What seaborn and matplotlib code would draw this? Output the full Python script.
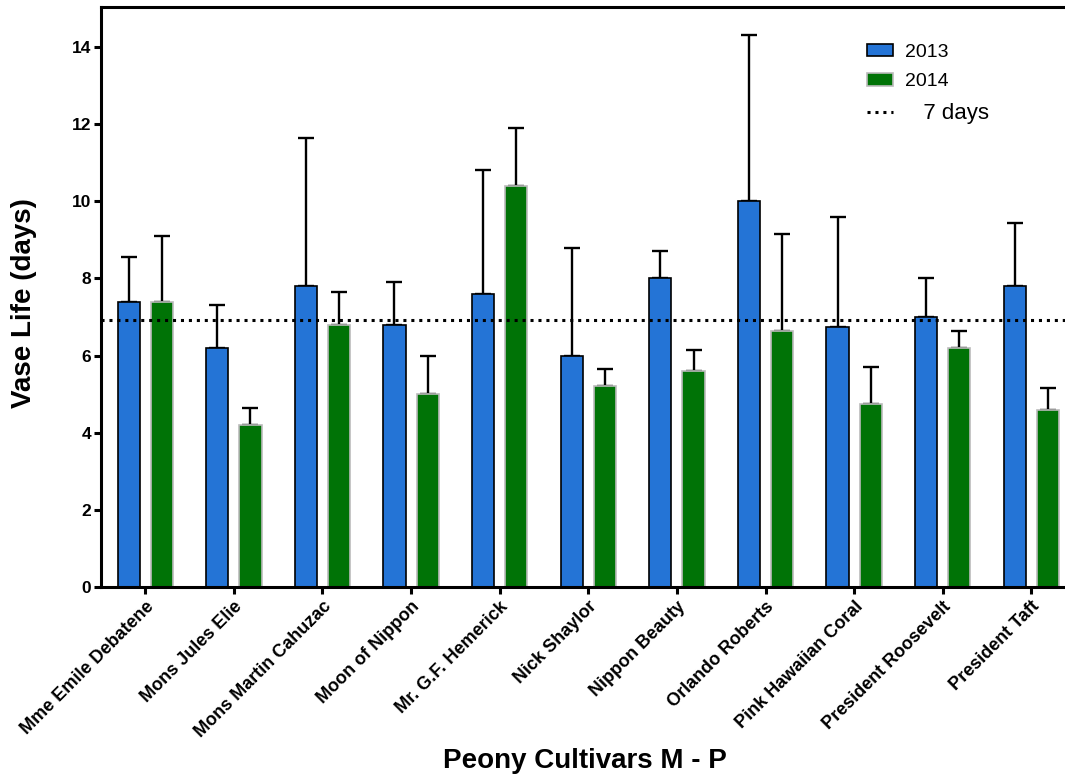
import matplotlib
matplotlib.use("Agg")
import matplotlib.pyplot as plt
import pandas as pd
import seaborn as sns
from matplotlib.patches import Patch
from matplotlib.lines import Line2D

# Dados
cultivares = [
    "Mme Emile Debatene", "Mons Jules Elie", "Mons Martin Cahuzac",
    "Moon of Nippon", "Mr. G.F. Hemerick", "Nick Shaylor", "Nippon Beauty",
    "Orlando Roberts", "Pink Hawaiian Coral", "President Roosevelt",
    "President Taft",
]
anos = ["2013", "2014"]
media_2013 = [7.4, 6.2, 7.8, 6.8, 7.6, 6.0, 8.0, 10.0, 6.75, 7.0, 7.8]
media_2014 = [7.4, 4.2, 6.8, 5.0, 10.4, 5.2, 5.6, 6.65, 4.75, 6.2, 4.6]
dp_2013 = [1.15, 1.1, 3.85, 1.1, 3.2, 2.8, 0.7, 4.3, 2.85, 1.0, 1.65]
dp_2014 = [1.7, 0.45, 0.85, 1.0, 1.5, 0.45, 0.55, 2.5, 0.95, 0.45, 0.55]
linha_ref = 6.93  # linha pontilhada "7 days"

cores = {"2013": "#2474D6", "2014": "#007306"}
bordas = {"2013": "black", "2014": "#BBBBBB"}

# Tabela longa para o seaborn
df = pd.DataFrame({
    "cultivar": cultivares * 2,
    "ano": ["2013"] * len(cultivares) + ["2014"] * len(cultivares),
    "vida": media_2013 + media_2014,
})

sns.set_theme(style="ticks")
plt.rcParams["font.family"] = ["Liberation Sans", "DejaVu Sans"]
plt.rcParams["text.color"] = "black"
plt.rcParams["axes.labelcolor"] = "black"
plt.rcParams["xtick.color"] = "black"
plt.rcParams["ytick.color"] = "black"

fig = plt.figure(figsize=(10.65, 7.82), dpi=100)
ax = fig.add_axes([0.0948, 0.2494, 0.9052, 0.7417])

sns.barplot(
    data=df, x="cultivar", y="vida", hue="ano", hue_order=anos,
    palette=cores, width=0.75, gap=0.333, legend=False, ax=ax,
    errorbar=None, saturation=1,
)

# bordas e barras de erro (só para cima, atrás das barras)
for cont, ano, dp, media in zip(ax.containers, anos, [dp_2013, dp_2014],
                                [media_2013, media_2014]):
    xs = []
    for p in cont:
        p.set_edgecolor(bordas[ano])
        p.set_linewidth(1.2)
        p.set_zorder(2)
        xs.append(p.get_x() + p.get_width() / 2)
    ax.errorbar(xs, media, yerr=[[0] * len(dp), dp], fmt="none",
                ecolor="black", elinewidth=1.7, capsize=6, capthick=1.7,
                zorder=1)

ax.axhline(linha_ref, color="black", linestyle=(0, (1, 1.6)), linewidth=2.2,
           zorder=5)

ax.set_xlim(-0.5, 10.38)
ax.set_ylim(0, 15.04)
ax.set_yticks(range(0, 15, 2))

for lado in ["left", "bottom", "top"]:
    ax.spines[lado].set_linewidth(2.2)
    ax.spines[lado].set_color("black")
ax.spines["right"].set_visible(False)

ax.tick_params(axis="both", direction="out", length=5, width=2.2,
               color="black", labelcolor="black")
ax.tick_params(axis="y", labelsize=12.5, pad=2)
ax.tick_params(axis="x", labelsize=13, pad=3)
for lbl in ax.get_yticklabels():
    lbl.set_fontweight("bold")
for lbl in ax.get_xticklabels():
    lbl.set_fontweight("bold")
    lbl.set_rotation(45)
    lbl.set_ha("right")
    lbl.set_rotation_mode("anchor")

ax.set_ylabel("Vase Life (days)", fontsize=20, fontweight="bold")
ax.set_xlabel("Peony Cultivars M - P", fontsize=20, fontweight="bold")
ax.yaxis.set_label_coords(-0.066, 0.49)
ax.xaxis.set_label_coords(0.502, -0.278)

# Legenda manual
handles = [
    Patch(facecolor=cores["2013"], edgecolor="black", linewidth=1.2),
    Patch(facecolor=cores["2014"], edgecolor="#BBBBBB", linewidth=1.2),
    Line2D([0], [0], color="black", linestyle=(0, (1, 1.6)), linewidth=2.2),
]
leg = ax.legend(handles, ["2013", "2014", "   7 days"], loc="upper left",
                bbox_to_anchor=(0.776, 0.967), frameon=False, fontsize=14,
                handlelength=1.35, handleheight=0.6, labelspacing=0.65,
                handletextpad=0.65)
leg.get_texts()[2].set_fontsize(16)

fig.savefig("out.png", dpi=100)
